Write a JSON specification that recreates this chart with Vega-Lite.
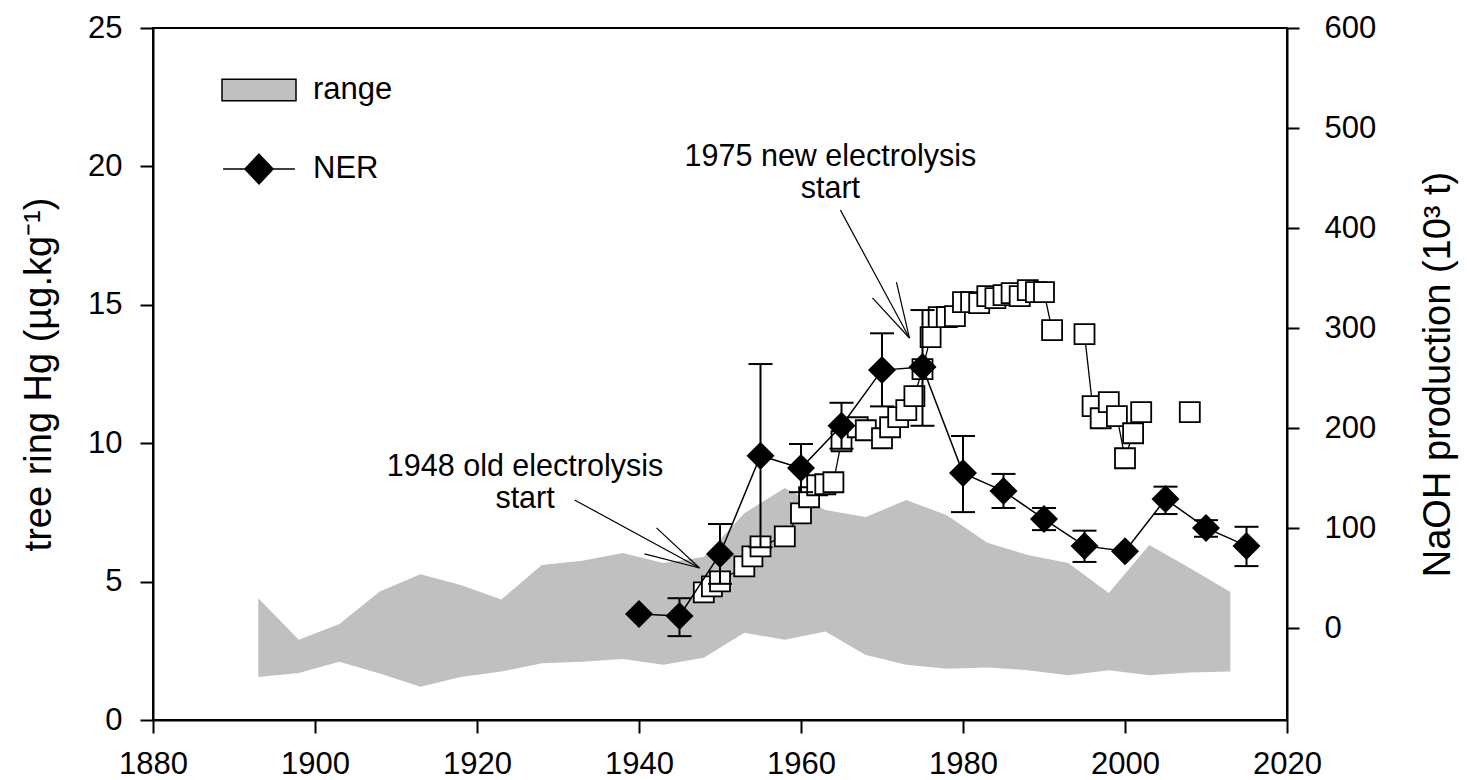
{
  "$schema": "https://vega.github.io/schema/vega-lite/v6.json",
  "width": 1134,
  "height": 692,
  "autosize": {"type": "none"},
  "padding": {"left": 153, "top": 28, "right": 180, "bottom": 60},
  "background": "white",
  "config": {
    "font": "Liberation Sans",
    "view": {"stroke": "black", "strokeWidth": 2},
    "axis": {
      "labelFont": "Liberation Sans", "labelFontSize": 31, "labelColor": "black",
      "titleFont": "Liberation Sans", "titleFontSize": 38, "titleFontWeight": "normal", "titleColor": "black",
      "domainColor": "black", "domainWidth": 2, "tickColor": "black", "tickWidth": 2, "grid": false
    }
  },
  "datasets": {
    "range": [
      {"year": 1893, "upper": 4.4, "lower": 1.55},
      {"year": 1898, "upper": 2.9, "lower": 1.7},
      {"year": 1903, "upper": 3.47, "lower": 2.1},
      {"year": 1908, "upper": 4.64, "lower": 1.68},
      {"year": 1913, "upper": 5.27, "lower": 1.2},
      {"year": 1918, "upper": 4.88, "lower": 1.55},
      {"year": 1923, "upper": 4.35, "lower": 1.75},
      {"year": 1928, "upper": 5.6, "lower": 2.05},
      {"year": 1933, "upper": 5.75, "lower": 2.1},
      {"year": 1938, "upper": 6.03, "lower": 2.2},
      {"year": 1943, "upper": 5.67, "lower": 2.0},
      {"year": 1948, "upper": 5.89, "lower": 2.25},
      {"year": 1953, "upper": 7.47, "lower": 3.15},
      {"year": 1958, "upper": 8.38, "lower": 2.9},
      {"year": 1963, "upper": 7.59, "lower": 3.2},
      {"year": 1968, "upper": 7.33, "lower": 2.35},
      {"year": 1973, "upper": 7.95, "lower": 2.0},
      {"year": 1978, "upper": 7.4, "lower": 1.85},
      {"year": 1983, "upper": 6.4, "lower": 1.9},
      {"year": 1988, "upper": 5.96, "lower": 1.8},
      {"year": 1993, "upper": 5.67, "lower": 1.62},
      {"year": 1998, "upper": 4.59, "lower": 1.8},
      {"year": 2003, "upper": 6.32, "lower": 1.62},
      {"year": 2008, "upper": 5.49, "lower": 1.72},
      {"year": 2013, "upper": 4.62, "lower": 1.75}
    ],
    "ner": [
      {"year": 1940, "hg": 3.83, "lo": null, "hi": null},
      {"year": 1945, "hg": 3.76, "lo": 3.03, "hi": 4.4},
      {"year": 1950, "hg": 6.0, "lo": 4.92, "hi": 7.08},
      {"year": 1955, "hg": 9.55, "lo": 6.24, "hi": 12.86},
      {"year": 1960, "hg": 9.1, "lo": 8.23, "hi": 9.97},
      {"year": 1965, "hg": 10.63, "lo": 9.8, "hi": 11.46},
      {"year": 1970, "hg": 12.64, "lo": 11.33, "hi": 13.97},
      {"year": 1975, "hg": 12.75, "lo": 10.63, "hi": 14.81},
      {"year": 1980, "hg": 8.92, "lo": 7.51, "hi": 10.26},
      {"year": 1985, "hg": 8.27, "lo": 7.66, "hi": 8.89},
      {"year": 1990, "hg": 7.26, "lo": 6.86, "hi": 7.66},
      {"year": 1995, "hg": 6.29, "lo": 5.71, "hi": 6.84},
      {"year": 2000, "hg": 6.1, "lo": null, "hi": null},
      {"year": 2005, "hg": 7.98, "lo": 7.44, "hi": 8.43},
      {"year": 2010, "hg": 6.94, "lo": 6.62, "hi": 7.22},
      {"year": 2015, "hg": 6.29, "lo": 5.56, "hi": 6.98}
    ],
    "naoh": [
      {"year": 1948, "naoh": 36, "seg": 1},
      {"year": 1949, "naoh": 42, "seg": 1},
      {"year": 1950, "naoh": 47, "seg": 1},
      {"year": 1953, "naoh": 62, "seg": 1},
      {"year": 1954, "naoh": 72, "seg": 1},
      {"year": 1955, "naoh": 82, "seg": 1},
      {"year": 1958, "naoh": 92, "seg": 1},
      {"year": 1960, "naoh": 115, "seg": 1},
      {"year": 1961, "naoh": 131, "seg": 1},
      {"year": 1962, "naoh": 143, "seg": 1},
      {"year": 1963, "naoh": 144, "seg": 1},
      {"year": 1964, "naoh": 146, "seg": 1},
      {"year": 1965, "naoh": 187, "seg": 1},
      {"year": 1967, "naoh": 201, "seg": 1},
      {"year": 1968, "naoh": 198, "seg": 1},
      {"year": 1970, "naoh": 190, "seg": 1},
      {"year": 1971, "naoh": 201, "seg": 1},
      {"year": 1972, "naoh": 211, "seg": 1},
      {"year": 1973, "naoh": 218, "seg": 1},
      {"year": 1974, "naoh": 232, "seg": 1},
      {"year": 1975, "naoh": 259, "seg": 1},
      {"year": 1976, "naoh": 291, "seg": 1},
      {"year": 1977, "naoh": 311, "seg": 1},
      {"year": 1978, "naoh": 311, "seg": 1},
      {"year": 1979, "naoh": 312, "seg": 1},
      {"year": 1980, "naoh": 326, "seg": 1},
      {"year": 1981, "naoh": 326, "seg": 1},
      {"year": 1982, "naoh": 325, "seg": 1},
      {"year": 1983, "naoh": 332, "seg": 1},
      {"year": 1984, "naoh": 330, "seg": 1},
      {"year": 1985, "naoh": 333, "seg": 1},
      {"year": 1986, "naoh": 335, "seg": 1},
      {"year": 1987, "naoh": 332, "seg": 1},
      {"year": 1988, "naoh": 338, "seg": 1},
      {"year": 1989, "naoh": 336, "seg": 1},
      {"year": 1990, "naoh": 336, "seg": 1},
      {"year": 1991, "naoh": 298, "seg": 1},
      {"year": 1995, "naoh": 294, "seg": 2},
      {"year": 1996, "naoh": 222, "seg": 2},
      {"year": 1997, "naoh": 210, "seg": 2},
      {"year": 1998, "naoh": 226, "seg": 2},
      {"year": 1999, "naoh": 212, "seg": 2},
      {"year": 2000, "naoh": 170, "seg": 2},
      {"year": 2001, "naoh": 195, "seg": 2},
      {"year": 2002, "naoh": 216, "seg": 2},
      {"year": 2008, "naoh": 216, "seg": 3}
    ],
    "notes": [
      {"year": 1925.93, "val": 9.14, "label": "1948 old electrolysis\nstart"},
      {"year": 1963.63, "val": 20.34, "label": "1975 new electrolysis\nstart"}
    ],
    "arrows": [
      {"x1": 1932.04, "y1": 7.95, "x2": 1947.47, "y2": 5.49},
      {"x1": 1942.16, "y1": 6.94, "x2": 1947.47, "y2": 5.49},
      {"x1": 1940.68, "y1": 6.0, "x2": 1947.47, "y2": 5.49},
      {"x1": 1964.87, "y1": 18.42, "x2": 1973.39, "y2": 13.8},
      {"x1": 1971.78, "y1": 15.82, "x2": 1973.39, "y2": 13.8},
      {"x1": 1968.82, "y1": 15.25, "x2": 1973.39, "y2": 13.8}
    ]
  },
  "layer": [
    {
      "data": {"name": "range"},
      "mark": {"type": "area", "fillOpacity": 1, "strokeWidth": 0},
      "encoding": {
        "x": {
          "field": "year", "type": "quantitative",
          "scale": {"domain": [1880, 2020], "nice": false, "zero": false},
          "axis": {"values": [1880, 1900, 1920, 1940, 1960, 1980, 2000, 2020], "title": null, "format": "d", "tickSize": 13, "labelPadding": 16, "labelFlush": false, "labelOverlap": false}
        },
        "y": {
          "field": "upper", "type": "quantitative",
          "scale": {"domain": [0, 25], "nice": false, "zero": false},
          "axis": {"orient": "left", "values": [0, 5, 10, 15, 20, 25], "title": "tree ring Hg (µg.kg⁻¹)", "tickSize": 13, "labelPadding": 18, "titleX": -114, "titleY": 346, "titleAngle": -90, "titleBaseline": "middle", "titleAlign": "center"}
        },
        "y2": {"field": "lower"},
        "fill": {
          "datum": "range", "type": "nominal",
          "scale": {"domain": ["range", "NER"], "range": ["#c0c0c0", "#000000"]},
          "legend": {
            "orient": "none", "legendX": 68, "legendY": 24, "title": null, "padding": 0,
            "labelFont": "Liberation Sans", "labelFontSize": 31, "labelColor": "black", "labelOffset": 16,
            "symbolSize": 5476, "rowPadding": 26,
            "encode": {
              "symbols": {
                "update": {
                  "shape": {"signal": "datum.value === 'range' ? 'M-1,-0.29L1,-0.29L1,0.29L-1,0.29Z' : 'M-0.97,0L0.97,0M0,-0.4L0.38,0L0,0.4L-0.38,0Z'"},
                  "fill": {"signal": "datum.value === 'range' ? '#c0c0c0' : '#000000'"},
                  "stroke": {"value": "black"},
                  "strokeWidth": {"value": 1.5},
                  "opacity": {"value": 1},
                  "fillOpacity": {"value": 1},
                  "size": {"value": 5476}
                }
              }
            }
          }
        }
      }
    },
    {
      "data": {"name": "naoh"},
      "layer": [
        {
          "mark": {"type": "line", "color": "black", "strokeWidth": 1.3},
          "encoding": {
            "x": {"field": "year", "type": "quantitative"},
            "y": {
              "field": "naoh", "type": "quantitative",
              "scale": {"domain": [-91.6, 600], "nice": false, "zero": false},
              "axis": {"orient": "right", "values": [0, 100, 200, 300, 400, 500, 600], "title": "NaOH production (10³ t)", "tickSize": 12, "labelPadding": 25, "titleX": 151, "titleY": 346, "titleAngle": -90, "titleBaseline": "middle", "titleAlign": "center"}
            },
            "detail": {"field": "seg", "type": "nominal"}
          }
        },
        {
          "mark": {"type": "point", "shape": "square", "size": 400, "filled": true, "fill": "white", "stroke": "black", "strokeWidth": 1.8, "opacity": 1},
          "encoding": {
            "x": {"field": "year", "type": "quantitative"},
            "y": {"field": "naoh", "type": "quantitative"}
          }
        }
      ]
    },
    {
      "layer": [
        {
          "data": {"name": "ner"},
          "mark": {"type": "line", "color": "black", "strokeWidth": 1.5},
          "encoding": {
            "x": {"field": "year", "type": "quantitative"},
            "y": {"field": "hg", "type": "quantitative", "scale": {"domain": [0, 25], "nice": false, "zero": false}, "axis": null}
          }
        },
        {
          "data": {"name": "ner"},
          "transform": [{"filter": "isValid(datum.hi)"}],
          "mark": {"type": "rule", "color": "black", "strokeWidth": 2},
          "encoding": {
            "x": {"field": "year", "type": "quantitative"},
            "y": {"field": "lo", "type": "quantitative", "axis": null},
            "y2": {"field": "hi"}
          }
        },
        {
          "data": {"name": "ner"},
          "transform": [{"filter": "isValid(datum.hi)"}],
          "mark": {"type": "tick", "orient": "horizontal", "color": "black", "size": 24, "thickness": 2, "opacity": 1},
          "encoding": {
            "x": {"field": "year", "type": "quantitative"},
            "y": {"field": "hi", "type": "quantitative", "axis": null}
          }
        },
        {
          "data": {"name": "ner"},
          "transform": [{"filter": "isValid(datum.lo)"}],
          "mark": {"type": "tick", "orient": "horizontal", "color": "black", "size": 24, "thickness": 2, "opacity": 1},
          "encoding": {
            "x": {"field": "year", "type": "quantitative"},
            "y": {"field": "lo", "type": "quantitative", "axis": null}
          }
        },
        {
          "data": {"name": "ner"},
          "mark": {"type": "point", "shape": "diamond", "size": 784, "filled": true, "opacity": 1, "strokeWidth": 0},
          "encoding": {
            "x": {"field": "year", "type": "quantitative"},
            "y": {"field": "hg", "type": "quantitative", "axis": null},
            "fill": {"datum": "NER", "type": "nominal"}
          }
        },
        {
          "data": {"name": "arrows"},
          "mark": {"type": "rule", "color": "black", "strokeWidth": 1.2},
          "encoding": {
            "x": {"field": "x1", "type": "quantitative"},
            "y": {"field": "y1", "type": "quantitative", "axis": null},
            "x2": {"field": "x2"},
            "y2": {"field": "y2"}
          }
        },
        {
          "data": {"name": "notes"},
          "mark": {"type": "text", "font": "Liberation Sans", "fontSize": 30.5, "lineBreak": "\n", "lineHeight": 32, "align": "center", "baseline": "middle", "color": "black"},
          "encoding": {
            "x": {"field": "year", "type": "quantitative"},
            "y": {"field": "val", "type": "quantitative", "axis": null},
            "text": {"field": "label"}
          }
        }
      ]
    }
  ],
  "resolve": {"scale": {"y": "independent"}}
}
